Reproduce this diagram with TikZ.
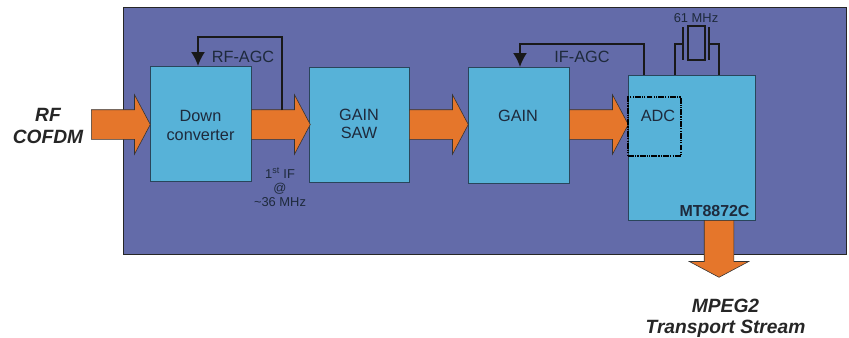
\documentclass[tikz,border=0pt]{standalone}
\usepackage{fontspec}
\setmainfont{Liberation Sans}
\usetikzlibrary{shapes.arrows,arrows.meta}
\definecolor{panelblue}{HTML}{636BA9}
\definecolor{boxblue}{HTML}{57B2D8}
\definecolor{flow}{HTML}{E5762B}
\definecolor{ink}{HTML}{1E2A3C}
\tikzset{
  block/.style={draw=ink!80!boxblue,fill=boxblue,line width=.7pt,inner sep=0pt,text=ink,align=center},
  flowarrow/.style={single arrow,draw=black!80,fill=flow,line width=.5pt,inner xsep=0pt,inner ysep=.435cm,
    minimum width=1.77cm,minimum height=1.77cm,single arrow head extend=.45cm,
    single arrow tip angle=124,single arrow head indent=0pt,anchor=tail},
  label/.style={text=ink,font=\fontsize{13.9}{16}\selectfont,inner sep=0pt},
  small/.style={text=ink,font=\fontsize{11}{12}\selectfont,inner sep=0pt,align=center},
  outer/.style={text=black!85,font=\fontsize{16.4}{18}\selectfont\bfseries\itshape,inner sep=0pt,align=center},
  agc/.style={line width=1.5pt,draw=black!90},
  agcarrow/.style={agc,-{Latex[length=.42cm,width=.42cm]}},
}
\begin{document}
\begin{tikzpicture}[x=.03cm,y=-.03cm]
    \useasboundingbox (0,0) rectangle (849,337);
    \node[draw=black!85,fill=panelblue,line width=.8pt,minimum width=21.69cm,minimum height=7.41cm,inner sep=0pt] (panel) at (484.5,130.5) {};

    % blocks
    \node[block,minimum width=3.03cm,minimum height=3.45cm] (down) at (200.5,123.5) {};
    \node[block,minimum width=3cm,minimum height=3.45cm] (saw) at (359,124.5) {};
    \node[block,minimum width=3.03cm,minimum height=3.48cm] (gain) at (518.5,125) {};
    \node[block,minimum width=3.81cm,minimum height=4.35cm] (chip) at (691.5,147.5) {};

    % wide arrows
    \node[flowarrow] (in) at (91,124.5) {};
    \node[flowarrow] (a1) at (251,124.5) {};
    \node[flowarrow] (a2) at (409,124.5) {};
    \node[flowarrow] (a3) at (569,124.5) {};
    \node[flowarrow,shape border rotate=270,inner xsep=.435cm,inner ysep=0pt,minimum height=1.71cm] (out) at (719,220) {};

    \node[draw=black,line width=1.2pt,dash pattern=on 5pt off 1pt on 1pt off 1pt on 1pt off 1pt,minimum width=1.59cm,minimum height=1.77cm,inner sep=0pt] (adc) at (654.5,126.5) {};

    \node[label,align=center] (downtxt) at (200.5,125.5) {Down\\converter};
    \node[label,align=center] (sawtxt) at (359,124) {GAIN\\SAW};
    \node[label] (gaintxt) at (518,116) {GAIN};
    \node[label] (adctxt) at (658,116) {ADC};
    \node[text=ink,font=\fontsize{13.6}{15}\selectfont\bfseries,inner sep=0pt] (chiptxt) at (714.5,211) {MT8872C};

    % feedback loops
    \coordinate (rfstart) at (282,110);
    \coordinate (rfin) at (198,66);
    \coordinate (ifstart) at (644,75);
    \coordinate (ifin) at (520,67);
    \draw[agcarrow] (rfstart) -- (282,37) -- (198,37) -- (rfin);
    \draw[agcarrow] (ifstart) -- (644,44) -- (520,44) -- (ifin);

    % crystal
    \node[draw=black!90,line width=1.1pt,minimum width=.51cm,minimum height=1.02cm,inner sep=0pt] (xtal) at (696.5,43) {};
    \coordinate (xl) at (683,44);
    \coordinate (xr) at (709,44);
    \draw[agc] (675,75) -- (675,44) -- (xl);
    \draw[agc] (xr) -- (719,44) -- (719,75);
    \draw[agc] (683,27) -- (683,60);
    \draw[agc] (709,27) -- (709,60);

    \node[small] (xtaltxt) at (696,18) {61 MHz};
    \node[label] (rftxt) at (243,57) {RF-AGC};
    \node[label] (iftxt) at (582,57) {IF-AGC};
    \node[small] (iftxt2) at (280,187) {1\textsuperscript{st} IF\\@\\\textasciitilde 36 MHz};
    \node[outer] (rfcofdm) at (48,126) {RF\\COFDM};
    \node[outer] (mpeg) at (725.5,318) {MPEG2\\Transport Stream};
\end{tikzpicture}
\end{document}
